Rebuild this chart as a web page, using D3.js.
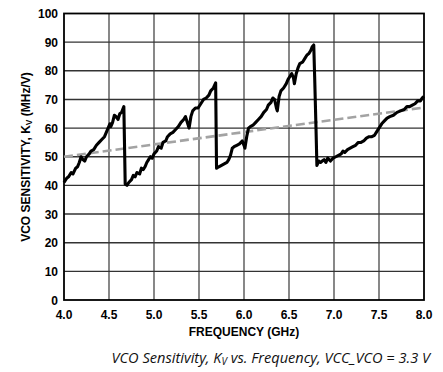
<!DOCTYPE html>
<html>
<head>
<meta charset="utf-8">
<script src="https://cdn.jsdelivr.net/npm/d3@7"></script>
<style>
  body { margin: 0; background: #fff; }
  svg { display: block; }
</style>
</head>
<body>
<div class="chart"></div>
<script>
// frequency (GHz) and sensitivity (MHz/V)
var freq = [
  4.00, 4.03, 4.05, 4.08, 4.10, 4.13, 4.15, 4.17, 4.19, 4.21, 4.23, 4.25, 4.28, 4.30, 4.33,
  4.36, 4.39, 4.42, 4.45, 4.47, 4.49, 4.51, 4.52, 4.54, 4.56, 4.58, 4.60, 4.62, 4.64, 4.665,
  4.68,
  4.70, 4.72, 4.75, 4.77, 4.79, 4.81, 4.84, 4.86, 4.88, 4.90, 4.92, 4.94, 4.96, 4.98, 5.00,
  5.03, 5.05, 5.08, 5.10, 5.13, 5.15, 5.18, 5.21, 5.24, 5.27, 5.30, 5.33, 5.35, 5.37, 5.39,
  5.41, 5.43, 5.46, 5.49, 5.52, 5.55, 5.58, 5.61, 5.63, 5.66, 5.685,
  5.695,
  5.72, 5.75, 5.78, 5.81, 5.83, 5.85, 5.87, 5.89, 5.92, 5.95, 5.98, 6.00, 6.01, 6.03, 6.05,
  6.07, 6.10, 6.13, 6.16, 6.19, 6.22, 6.25, 6.27, 6.30, 6.32, 6.34, 6.36, 6.37, 6.39, 6.41,
  6.44, 6.47, 6.49, 6.51, 6.53, 6.55, 6.56, 6.58, 6.60, 6.62, 6.65, 6.68, 6.70, 6.72, 6.74,
  6.76, 6.775, 6.785, 6.80,
  6.81, 6.83, 6.85, 6.87, 6.89, 6.91, 6.93, 6.96, 6.99, 7.02, 7.05, 7.08, 7.10, 7.12, 7.15,
  7.18, 7.21, 7.24, 7.27, 7.30, 7.33, 7.36, 7.39, 7.42, 7.45, 7.47, 7.50, 7.53, 7.56, 7.59,
  7.62, 7.66, 7.70, 7.74, 7.78, 7.81, 7.84, 7.87, 7.90, 7.93, 7.96, 7.98, 8.00
];
var kv = [
  41.0, 42.5, 43.0, 44.5, 44.0, 46.0, 46.5, 48.0, 50.0, 49.0, 48.5, 50.0, 51.0, 52.0, 52.5,
  54.0, 55.0, 56.0, 57.0, 58.5, 60.0, 61.5, 60.5, 62.0, 64.5, 64.0, 63.0, 65.0, 65.5, 67.5,
  40.5,
  40.0, 41.0, 42.0, 43.5, 43.0, 44.5, 44.0, 46.0, 45.5, 46.5, 48.0, 49.0, 50.0, 49.5, 51.0,
  52.0, 53.5, 53.0, 55.0, 55.5, 57.0, 58.0, 58.5, 59.5, 60.5, 62.0, 63.0, 64.0, 62.0, 60.0,
  64.0, 66.0, 67.0, 67.0, 68.5, 70.0, 70.5, 71.5, 73.0, 74.0, 75.8,
  46.0,
  46.5, 47.0, 47.5, 48.0, 49.0, 50.5, 53.0, 53.5, 54.0, 54.5, 55.5, 54.0, 53.0, 57.0, 60.0,
  60.5, 61.0, 62.0, 63.0, 64.0, 65.5, 66.5, 68.0, 69.0, 70.5, 70.0, 67.0, 66.0, 71.0, 73.0,
  74.0, 75.5, 77.0, 78.0, 79.0, 77.5, 75.5, 79.0, 81.0, 82.5, 83.0, 84.5, 85.5, 86.0, 87.0,
  88.5, 89.0, 78.0, 60.0,
  47.0, 48.5, 48.0, 48.5, 49.0, 48.0, 49.5, 48.5, 49.5, 50.0, 50.5, 51.0, 52.0, 51.5, 52.5,
  53.0, 53.5, 54.0, 55.0, 55.0, 55.5, 56.5, 57.0, 57.0, 57.5, 58.5, 60.0, 61.5, 62.5, 63.5,
  64.0, 64.5, 65.5, 66.0, 66.5, 67.5, 67.5, 68.0, 68.5, 69.5, 69.5, 70.5, 71.0
];
// grey dashed reference line (end points)
var refFreq = [4.0, 8.0];
var refKv = [50.0, 67.2];

var xTicks = [4.0, 4.5, 5.0, 5.5, 6.0, 6.5, 7.0, 7.5, 8.0];
var yTicks = [0, 10, 20, 30, 40, 50, 60, 70, 80, 90, 100];

var width = 443, height = 372;
var plotL = 64, plotR = 424, plotT = 13.5, plotB = 300;

var svg = d3.select(".chart").append("svg")
    .attr("width", width)
    .attr("height", height);

var x = d3.scaleLinear().domain([4, 8]).range([plotL, plotR]);
var y = d3.scaleLinear().domain([0, 100]).range([plotB, plotT]);

// grid
svg.append("g").selectAll("line")
    .data(xTicks.slice(1, -1))
    .enter().append("line")
    .attr("x1", function(d) { return x(d); })
    .attr("x2", function(d) { return x(d); })
    .attr("y1", plotT)
    .attr("y2", plotB)
    .attr("stroke", "#555")
    .attr("stroke-width", 1.4);

svg.append("g").selectAll("line")
    .data(yTicks.slice(1, -1))
    .enter().append("line")
    .attr("x1", plotL)
    .attr("x2", plotR)
    .attr("y1", function(d) { return y(d); })
    .attr("y2", function(d) { return y(d); })
    .attr("stroke", "#333")
    .attr("stroke-width", 1.4);

// frame
svg.append("rect")
    .attr("x", plotL)
    .attr("y", plotT)
    .attr("width", plotR - plotL)
    .attr("height", plotB - plotT)
    .attr("fill", "none")
    .attr("stroke", "#000")
    .attr("stroke-width", 1.8);

// tick labels
svg.append("g").selectAll("text")
    .data(yTicks)
    .enter().append("text")
    .attr("x", plotL - 6)
    .attr("y", function(d) { return y(d) + 4.5; })
    .attr("text-anchor", "end")
    .attr("font-family", "Liberation Sans, Arial, sans-serif")
    .attr("font-weight", "bold")
    .attr("font-size", "12px")
    .text(function(d) { return d; });

svg.append("g").selectAll("text")
    .data(xTicks)
    .enter().append("text")
    .attr("x", function(d) { return x(d); })
    .attr("y", plotB + 18.5)
    .attr("text-anchor", "middle")
    .attr("font-family", "Liberation Sans, Arial, sans-serif")
    .attr("font-weight", "bold")
    .attr("font-size", "12px")
    .text(function(d) { return d.toFixed(1); });

// axis titles
svg.append("text")
    .attr("x", (plotL + plotR) / 2)
    .attr("y", 336)
    .attr("text-anchor", "middle")
    .attr("font-family", "Liberation Sans, Arial, sans-serif")
    .attr("font-weight", "bold")
    .attr("font-size", "12px")
    .text("FREQUENCY (GHz)");

var yt = svg.append("text")
    .attr("transform", "translate(29.5," + 157 + ") rotate(-90)")
    .attr("text-anchor", "middle")
    .attr("font-family", "Liberation Sans, Arial, sans-serif")
    .attr("font-weight", "bold")
    .attr("font-size", "12px");
yt.append("tspan").text("VCO SENSITIVITY, K");
yt.append("tspan").attr("font-size", "8.5px").attr("dy", 2).text("V");
yt.append("tspan").attr("dy", -2).text(" (MHz/V)");

// reference line
var line = d3.line()
    .x(function(d) { return x(d[0]); })
    .y(function(d) { return y(d[1]); });

svg.append("path")
    .datum(d3.zip(refFreq, refKv))
    .attr("d", line)
    .attr("fill", "none")
    .attr("stroke", "#a3a3a3")
    .attr("stroke-width", 2.6)
    .attr("stroke-dasharray", "9,4");

// measured curve
svg.append("path")
    .datum(d3.zip(freq, kv))
    .attr("d", line)
    .attr("fill", "none")
    .attr("stroke", "#000")
    .attr("stroke-width", 3.1)
    .attr("stroke-linejoin", "round");

// caption
var cap = svg.append("text")
    .attr("x", 430)
    .attr("y", 363)
    .attr("text-anchor", "end")
    .attr("font-family", "Open Sans, sans-serif")
    .attr("font-style", "italic")
    .attr("font-size", "14.6px")
    .attr("fill", "#111");
cap.append("tspan").text("VCO Sensitivity, K");
cap.append("tspan").attr("font-size", "10px").attr("dy", 1.5).text("V");
cap.append("tspan").attr("dy", -1.5).text(" vs. Frequency, VCC_VCO = 3.3 V");
</script>
</body>
</html>
